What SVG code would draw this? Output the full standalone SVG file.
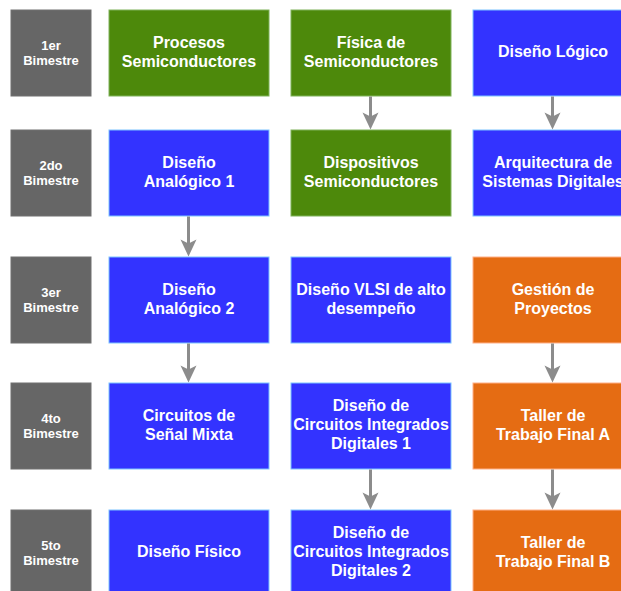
<svg xmlns="http://www.w3.org/2000/svg" width="621" height="591" viewBox="0 0 621 591">
<style>
.g{fill:#666666;stroke:#707070;stroke-width:1}
.gr{fill:#4D890B;stroke:#7FB25A;stroke-width:1}
.bl{fill:#3333FF;stroke:#7CC4FF;stroke-width:1}
.or{fill:#E56C13;stroke:#FFB088;stroke-width:1}
text{font-family:"Liberation Sans",Arial,Helvetica,sans-serif;font-weight:bold;fill:#FFFFFF;text-anchor:middle}
.t{font-size:16px}
.s{font-size:13px}
.c{stroke:#8C8C8C;stroke-width:3;fill:none}
</style>
<defs>
<marker id="ah" markerUnits="userSpaceOnUse" markerWidth="20" markerHeight="20" viewBox="-18 -9 20 18" refX="-12" refY="0" orient="auto">
<path d="M0,0 L-17,-8 L-13,0 L-17,8 Z" fill="#8C8C8C"/>
</marker>
</defs>
<rect width="621" height="591" fill="#FFFFFF"/>
<g id="sem1"><rect class="g" x="11" y="10" width="80" height="86"/><text class="s" x="51" y="49.5">1er</text><text class="s" x="51" y="65">Bimestre</text></g>
<g id="sem2"><rect class="g" x="11" y="130" width="80" height="86"/><text class="s" x="51" y="169.5">2do</text><text class="s" x="51" y="185">Bimestre</text></g>
<g id="sem3"><rect class="g" x="11" y="257" width="80" height="86"/><text class="s" x="51" y="296.5">3er</text><text class="s" x="51" y="312">Bimestre</text></g>
<g id="sem4"><rect class="g" x="11" y="383" width="80" height="86"/><text class="s" x="51" y="422.5">4to</text><text class="s" x="51" y="438">Bimestre</text></g>
<g id="sem5"><rect class="g" x="11" y="510" width="80" height="86"/><text class="s" x="51" y="549.5">5to</text><text class="s" x="51" y="565">Bimestre</text></g>

<g id="procesos"><rect class="gr" x="109" y="10" width="160" height="86"/><text class="t" x="189" y="47.5">Procesos</text><text class="t" x="189" y="66.5">Semiconductores</text></g>
<g id="fisica"><rect class="gr" x="291" y="10" width="160" height="86"/><text class="t" x="371" y="47.5">Física de</text><text class="t" x="371" y="66.5">Semiconductores</text></g>
<g id="logico"><rect class="bl" x="473" y="10" width="160" height="86"/><text class="t" x="553" y="57">Diseño Lógico</text></g>

<g id="analogico1"><rect class="bl" x="109" y="130" width="160" height="86"/><text class="t" x="189" y="167.5">Diseño</text><text class="t" x="189" y="186.5">Analógico 1</text></g>
<g id="dispositivos"><rect class="gr" x="291" y="130" width="160" height="86"/><text class="t" x="371" y="167.5">Dispositivos</text><text class="t" x="371" y="186.5">Semiconductores</text></g>
<g id="arquitectura"><rect class="bl" x="473" y="130" width="160" height="86"/><text class="t" x="553" y="167.5">Arquitectura de</text><text class="t" x="553" y="186.5">Sistemas Digitales</text></g>

<g id="analogico2"><rect class="bl" x="109" y="257" width="160" height="86"/><text class="t" x="189" y="294.5">Diseño</text><text class="t" x="189" y="313.5">Analógico 2</text></g>
<g id="vlsi"><rect class="bl" x="291" y="257" width="160" height="86"/><text class="t" x="371" y="294.5">Diseño VLSI de alto</text><text class="t" x="371" y="313.5">desempeño</text></g>
<g id="gestion"><rect class="or" x="473" y="257" width="160" height="86"/><text class="t" x="553" y="294.5">Gestión de</text><text class="t" x="553" y="313.5">Proyectos</text></g>

<g id="mixta"><rect class="bl" x="109" y="383" width="160" height="86"/><text class="t" x="189" y="420.5">Circuitos de</text><text class="t" x="189" y="439.5">Señal Mixta</text></g>
<g id="cid1"><rect class="bl" x="291" y="383" width="160" height="86"/><text class="t" x="371" y="411">Diseño de</text><text class="t" x="371" y="430">Circuitos Integrados</text><text class="t" x="371" y="449">Digitales 1</text></g>
<g id="tallerA"><rect class="or" x="473" y="383" width="160" height="86"/><text class="t" x="553" y="420.5">Taller de</text><text class="t" x="553" y="439.5">Trabajo Final A</text></g>

<g id="fisico"><rect class="bl" x="109" y="510" width="160" height="86"/><text class="t" x="189" y="557">Diseño Físico</text></g>
<g id="cid2"><rect class="bl" x="291" y="510" width="160" height="86"/><text class="t" x="371" y="538">Diseño de</text><text class="t" x="371" y="557">Circuitos Integrados</text><text class="t" x="371" y="576">Digitales 2</text></g>
<g id="tallerB"><rect class="or" x="473" y="510" width="160" height="86"/><text class="t" x="553" y="547.5">Taller de</text><text class="t" x="553" y="566.5">Trabajo Final B</text></g>

<g id="connectors">
<line class="c" x1="370.5" y1="96.5" x2="370.5" y2="117.5" marker-end="url(#ah)"/>
<line class="c" x1="552.5" y1="96.5" x2="552.5" y2="117.5" marker-end="url(#ah)"/>
<line class="c" x1="188.5" y1="216.5" x2="188.5" y2="244.5" marker-end="url(#ah)"/>
<line class="c" x1="188.5" y1="343.5" x2="188.5" y2="370.5" marker-end="url(#ah)"/>
<line class="c" x1="552.5" y1="343.5" x2="552.5" y2="370.5" marker-end="url(#ah)"/>
<line class="c" x1="370.5" y1="469.5" x2="370.5" y2="497.5" marker-end="url(#ah)"/>
<line class="c" x1="552.5" y1="469.5" x2="552.5" y2="497.5" marker-end="url(#ah)"/>
</g>
</svg>
